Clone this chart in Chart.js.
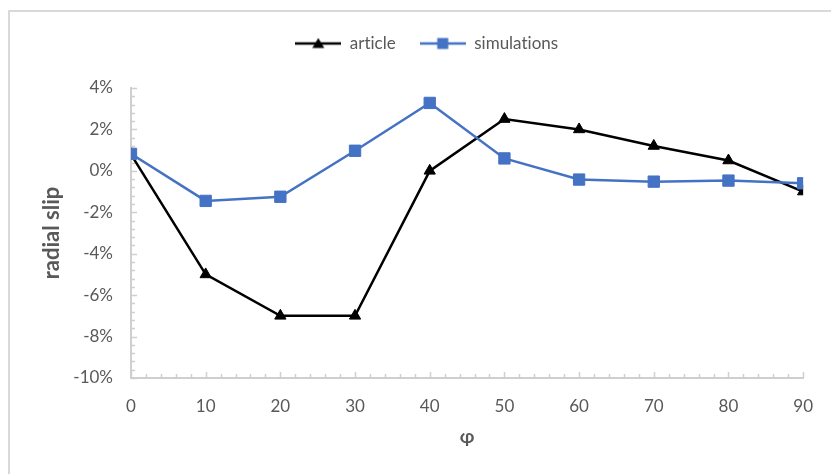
<!DOCTYPE html>
<html>
<head>
<meta charset="utf-8">
<script src="https://cdn.jsdelivr.net/npm/chart.js@4/dist/chart.umd.min.js"></script>
<style>
  html, body { margin: 0; padding: 0; background: #ffffff; }
  #wrap { position: relative; width: 831px; height: 474px; }
  #frame { position: absolute; left: 8px; top: 10px; width: 840px; height: 480px;
           border-left: 2px solid #d9d9d9; border-top: 2px solid #d9d9d9; box-sizing: border-box; }
  canvas { position: absolute; left: 0; top: 0; }
</style>
</head>
<body>
<div id="wrap">
  <div id="frame"></div>
  <canvas id="c" width="831" height="474"></canvas>
</div>
<script>
// angle φ (degrees)
const phi = [0, 10, 20, 30, 40, 50, 60, 70, 80, 90];
// radial slip, in percent
const article = [0.8, -5, -7, -7, 0, 2.5, 2, 1.2, 0.5, -1];
const simulations = [0.82, -1.45, -1.25, 0.97, 3.28, 0.6, -0.42, -0.52, -0.47, -0.6];

const seriesNames = ['article', 'simulations'];
const yMin = -10, yMax = 4, yStep = 2, yMinor = 0.4;
const xMin = 0, xMax = 90, xStep = 10, xMinor = 2;

const BLACK = '#000000';
const BLUE = '#4472C4';
const TEXT = '#595959';
const AXIS = '#cfcfcf';
const FONT = 'Lato';

function points(values) {
  return phi.map((p, i) => ({ x: p, y: values[i] }));
}

// small legend swatch: line with the marker on it
function swatch(color, shape) {
  const cv = document.createElement('canvas');
  cv.width = 46; cv.height = 14;
  const g = cv.getContext('2d');
  g.strokeStyle = color; g.lineWidth = 2.5;
  g.beginPath(); g.moveTo(0, 7); g.lineTo(46, 7); g.stroke();
  g.fillStyle = color;
  if (shape === 'triangle') {
    g.beginPath(); g.moveTo(23, 1.5); g.lineTo(29, 11.5); g.lineTo(17, 11.5); g.closePath(); g.fill();
  } else {
    g.fillRect(17.5, 1.5, 11, 11);
  }
  return cv;
}

// plain glyphs, no ligatures
const plainText = {
  id: 'plainText',
  beforeDraw(chart) {
    chart.ctx.textRendering = 'optimizeSpeed';
  }
};

// Inward major/minor tick marks on both axes
const tickMarks = {
  id: 'tickMarks',
  beforeDatasetsDraw(chart) {
    const { ctx, scales: { x, y } } = chart;
    const axisY = y.getPixelForValue(yMin);
    const axisX = x.getPixelForValue(xMin);
    ctx.save();
    ctx.strokeStyle = AXIS;
    ctx.lineWidth = 1.5;
    ctx.beginPath();
    for (let v = xMin; v <= xMax + 1e-9; v += xMinor) {
      const px = Math.round(x.getPixelForValue(v)) + 0.5;
      const major = Math.abs(v / xStep - Math.round(v / xStep)) < 1e-6;
      ctx.moveTo(px, axisY);
      ctx.lineTo(px, axisY - (major ? 6 : 4));
    }
    for (let k = 0; k <= Math.round((yMax - yMin) / yMinor); k++) {
      const v = yMin + k * yMinor;
      const py = Math.round(y.getPixelForValue(v)) + 0.5;
      const major = Math.abs((v - yMin) / yStep - Math.round((v - yMin) / yStep)) < 1e-6;
      ctx.moveTo(axisX, py);
      ctx.lineTo(axisX + (major ? 6 : 4), py);
    }
    ctx.stroke();
    ctx.restore();
  }
};

// Fixed legend band height, centred over the chart body
const legendBand = {
  id: 'legendBand',
  beforeInit(chart) {
    const lg = chart.legend;
    if (lg && !lg._bandPatched) {
      const fit = lg.fit;
      lg.fit = function () { fit.call(this); this.height = 77; };
      lg._bandPatched = true;
    }
  },
  afterLayout(chart) {
    const lg = chart.legend;
    if (lg) { lg.left += 24; lg.right += 24; }
  }
};

new Chart(document.getElementById('c'), {
  type: 'line',
  data: {
    datasets: [
      {
        label: seriesNames[0],
        data: points(article),
        borderColor: BLACK,
        backgroundColor: BLACK,
        borderWidth: 2.5,
        pointStyle: 'triangle',
        pointRadius: 6.5,
        pointBorderWidth: 1,
        pointBackgroundColor: BLACK,
        pointBorderColor: BLACK,
        tension: 0,
        order: 2
      },
      {
        label: seriesNames[1],
        data: points(simulations),
        borderColor: BLUE,
        backgroundColor: BLUE,
        borderWidth: 2.5,
        pointStyle: 'rect',
        pointRadius: 8,
        pointBorderWidth: 1,
        pointBackgroundColor: BLUE,
        pointBorderColor: BLUE,
        tension: 0,
        order: 1
      }
    ]
  },
  options: {
    responsive: false,
    animation: false,
    events: [],
    layout: { padding: { top: 11, right: 25, left: 0, bottom: 0 } },
    plugins: {
      tooltip: { enabled: false },
      legend: {
        position: 'top',
        labels: {
          color: TEXT,
          font: { family: FONT, size: 17 },
          usePointStyle: true,
          pointStyleWidth: 46,
          boxHeight: 14,
          padding: 24,
          generateLabels(chart) {
            return chart.data.datasets.map((ds, i) => ({
              text: ds.label,
              fillStyle: ds.borderColor,
              strokeStyle: ds.borderColor,
              lineWidth: 0,
              pointStyle: swatch(ds.borderColor, i === 0 ? 'triangle' : 'rect'),
              hidden: false,
              datasetIndex: i,
              fontColor: TEXT
            }));
          }
        }
      }
    },
    scales: {
      x: {
        type: 'linear',
        min: xMin, max: xMax,
        offset: false,
        grid: { display: true, drawOnChartArea: false, drawTicks: false },
        border: { display: true, color: AXIS, width: 2 },
        ticks: { stepSize: xStep, color: TEXT, font: { family: FONT, size: 17 }, padding: 18, maxRotation: 0 },
        title: { display: true, text: 'φ', color: TEXT, font: { family: FONT, size: 19, weight: 'bold' }, padding: { top: 26, bottom: 26 } },
        afterFit(scale) { scale.height = 96; }
      },
      y: {
        type: 'linear',
        min: yMin, max: yMax,
        grid: { display: true, drawOnChartArea: false, drawTicks: false },
        border: { display: true, color: AXIS, width: 2 },
        ticks: { stepSize: yStep, color: TEXT, font: { family: FONT, size: 17 }, padding: 18, callback: v => v + '%' },
        title: { display: true, text: 'radial slip', color: TEXT, font: { family: FONT, size: 22, weight: 'bold' }, padding: { top: 39, bottom: 39 } },
        afterFit(scale) { scale.width = 131; }
      }
    }
  },
  plugins: [plainText, legendBand, tickMarks]
});
</script>
</body>
</html>
